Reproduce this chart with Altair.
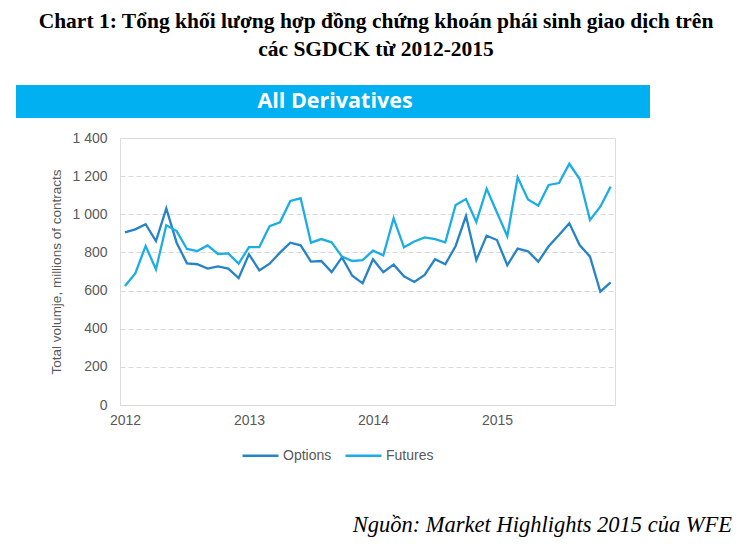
import altair as alt
import pandas as pd

# Monthly, Jan 2012 .. Dec 2015 (millions of contracts)
months = [f"{y}-{m:02d}" for y in (2012, 2013, 2014, 2015) for m in range(1, 13)]
options = [905, 921, 948, 860, 1031, 851, 743, 738, 715, 727, 715, 666,
           790, 706, 741, 799, 851, 837, 752, 755, 697, 774, 678, 638,
           764, 696, 736, 675, 645, 682, 764, 738, 834, 991, 760, 888,
           865, 733, 820, 806, 752, 832, 891, 953, 839, 778, 594, 643]
futures = [624, 690, 834, 711, 942, 912, 818, 807, 837, 792, 795, 741,
           828, 828, 938, 958, 1070, 1084, 851, 870, 853, 778, 755, 760,
           809, 785, 979, 827, 857, 879, 870, 853, 1049, 1080, 960, 1134,
           1009, 885, 1194, 1078, 1045, 1154, 1164, 1265, 1185, 970, 1040, 1145]
series_names = ["Options", "Futures"]
series_colors = ["#2683C6", "#1CADE4"]
year_ticks = [0, 12, 24, 36]
y_ticks = [0, 200, 400, 600, 800, 1000, 1200, 1400]

title_lines = ["Chart 1: Tổng khối lượng hợp đồng chứng khoán phái sinh giao dịch trên",
               "các SGDCK từ 2012-2015"]
banner_text = "All Derivatives"
source_text = "Nguồn: Market Highlights 2015 của WFE"
y_title = "Total volumje, millions of contracts"

rows = []
for i, mth in enumerate(months):
    rows.append({"idx": i, "month": mth, "series": "Options", "value": options[i]})
    rows.append({"idx": i, "month": mth, "series": "Futures", "value": futures[i]})
df = pd.DataFrame(rows)

W, H = 495, 267

lines = alt.Chart(df).mark_line(strokeWidth=2.3).encode(
    x=alt.X("idx:Q",
            scale=alt.Scale(domain=[-0.48, 47.42], nice=False, zero=False),
            axis=alt.Axis(values=year_ticks, labelExpr="toString(2012 + datum.value / 12)",
                          title=None, grid=False, ticks=False, domain=True,
                          domainColor="#d9d9d9", domainWidth=1.2,
                          labelFont="Liberation Sans", labelFontSize=14,
                          labelColor="#595959", labelPadding=8)),
    y=alt.Y("value:Q",
            scale=alt.Scale(domain=[0, 1400], nice=False),
            axis=alt.Axis(values=y_ticks,
                          labelExpr="replace(format(datum.value, ','), ',', ' ')",
                          title=y_title, titleFont="Liberation Sans", titleFontSize=13.5,
                          titleFontWeight="normal", titleColor="#595959", titlePadding=8,
                          grid=True, gridDash=[5, 3], gridColor="#d9d9d9", gridWidth=1,
                          ticks=False, domain=False,
                          labelFont="Liberation Sans", labelFontSize=14,
                          labelColor="#595959", labelPadding=13)),
    color=alt.Color("series:N",
                    scale=alt.Scale(domain=series_names, range=series_colors),
                    legend=alt.Legend(orient="none", direction="horizontal", title=None,
                                      legendX=121, legendY=298,
                                      symbolType="stroke", symbolSize=1296,
                                      symbolStrokeWidth=2.5, labelFont="Liberation Sans",
                                      labelFontSize=14, labelColor="#595959",
                                      labelOffset=3, columnPadding=8)),
    order="idx:Q",
)

banner_rect = alt.Chart(pd.DataFrame({"t": [banner_text]})).mark_rect(color="#00B0F0").encode(
    x=alt.value(-104), x2=alt.value(530), y=alt.value(-53), y2=alt.value(-20))
banner_txt = alt.Chart(pd.DataFrame({"t": [banner_text]})).mark_text(
    font="Open Sans", fontWeight="bold", fontSize=21.5, color="white", align="center",
    baseline="middle").encode(text="t:N", x=alt.value(215), y=alt.value(-36))

title1 = alt.Chart(pd.DataFrame({"t": [title_lines[0]]})).mark_text(
    font="Liberation Serif", fontWeight="bold", fontSize=21.5, color="black",
    align="center", baseline="alphabetic").encode(text="t:N", x=alt.value(256), y=alt.value(-110))
title2 = alt.Chart(pd.DataFrame({"t": [title_lines[1]]})).mark_text(
    font="Liberation Serif", fontWeight="bold", fontSize=21.5, color="black",
    align="center", baseline="alphabetic").encode(text="t:N", x=alt.value(256), y=alt.value(-82))

source = alt.Chart(pd.DataFrame({"t": [source_text]})).mark_text(
    font="Liberation Serif", fontStyle="italic", fontSize=22.5, color="black",
    align="right", baseline="alphabetic").encode(text="t:N", x=alt.value(612), y=alt.value(394))

chart = alt.layer(banner_rect, banner_txt, title1, title2, source, lines).properties(
    width=W, height=H,
    autosize=alt.AutoSizeParams(type="none"),
    padding={"left": 112, "top": 130, "right": 121, "bottom": 134},
).configure_view(stroke=None).configure(background="white")

chart.save("out.html", embed_options={"renderer": "svg", "actions": False})
